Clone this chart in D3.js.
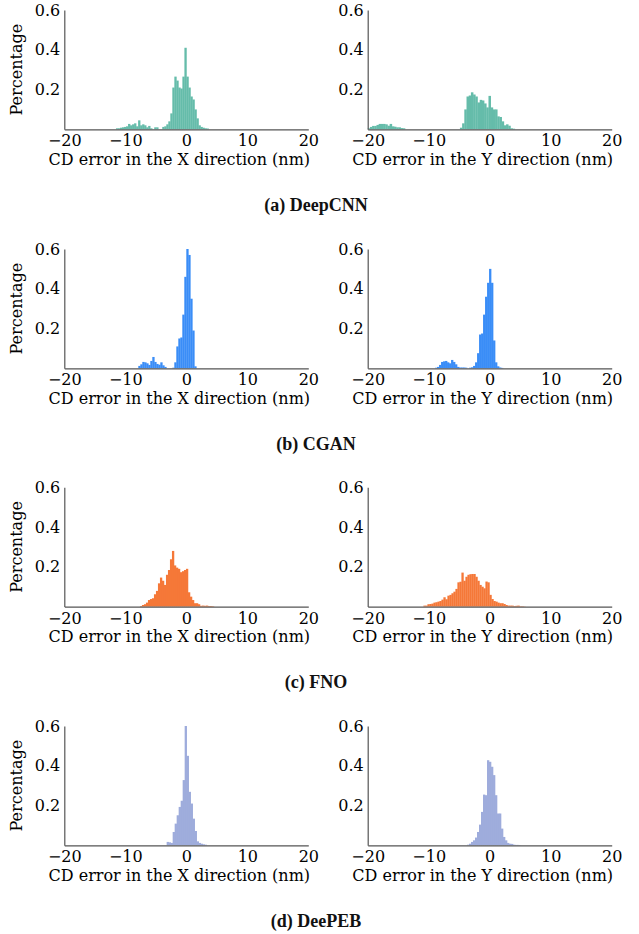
<!DOCTYPE html>
<html>
<head>
<meta charset="utf-8">
<script src="https://cdn.jsdelivr.net/npm/d3@7"></script>
<style>
  body { margin: 0; background: #fff; }
  .tick text { font-family: "DejaVu Serif", serif; font-size: 16px; fill: #000; }
  .axis-title { font-family: "DejaVu Serif", serif; font-size: 16px; fill: #000; }
  .caption { font-family: "Liberation Serif", serif; font-weight: bold; font-size: 18px; fill: #111; }
  .domain { stroke: #555; stroke-width: 1.2; }
</style>
</head>
<body>
<div id="chart"></div>
<script>
// histogram bins: start of first bin (nm), bin width (nm), then percentages
const models = [`(a) DeepCNN`, `(b) CGAN`, `(c) FNO`, `(d) DeePEB`];
const colors = [`#65bcaa`, `#3a8df7`, `#f57838`, `#9eacdc`];
const xTicks = [-20, -10, 0, 10, 20];
const yTicks = [0.2, 0.4, 0.6];

const deepcnnX = [0.005, 0.005, 0.008, 0.01, 0.012, 0.015, 0.027, 0.02, 0.025, 0.03, 0.015, 0.045, 0.02, 0.025, 0.02, 0.01,
  0.017, 0.005, 0, 0.01, 0.01, 0, 0, 0.012, 0.015, 0.025, 0.04, 0.08, 0.21, 0.265, 0.245, 0.21, 0.205, 0.265, 0.41, 0.265,
  0.21, 0.165, 0.15, 0.1, 0.055, 0.02, 0.012, 0.008, 0.005, 0.004];
const deepcnnY = [0.005, 0.012, 0.017, 0.017, 0.022, 0.027, 0.027, 0.027, 0.025, 0.018, 0.027, 0.015, 0.013, 0.01, 0.01, 0.006,
  0.005, 0, 0, 0, 0, 0, 0, 0, 0, 0, 0, 0, 0, 0, 0, 0, 0, 0, 0, 0, 0, 0, 0, 0, 0, 0, 0.008, 0.03, 0.1, 0.165, 0.17, 0.186,
  0.175, 0.165, 0.135, 0.148, 0.145, 0.13, 0.11, 0.168, 0.11, 0.1, 0.1, 0.065, 0.062, 0.04, 0.02, 0.025, 0.018, 0.005, 0.003];
const cganX = [0.012, 0.02, 0.032, 0.03, 0.025, 0.017, 0.037, 0.057, 0.032, 0.022, 0.018, 0.03, 0.015, 0.007, 0, 0, 0, 0.003,
  0.03, 0.11, 0.15, 0.155, 0.27, 0.46, 0.6, 0.57, 0.35, 0.19, 0.01];
const cganY = [0.003, 0.007, 0.017, 0.032, 0.035, 0.037, 0.03, 0.025, 0.042, 0.032, 0.02, 0.007, 0.004, 0.004, 0.004, 0.003,
  0, 0.003, 0.005, 0.012, 0.03, 0.076, 0.17, 0.175, 0.27, 0.36, 0.43, 0.5, 0.43, 0.14, 0.03, 0.01, 0.004, 0.002];
const fnoX = [0.003, 0.008, 0.012, 0.02, 0.033, 0.038, 0.042, 0.062, 0.079, 0.117, 0.146, 0.13, 0.109, 0.16, 0.184, 0.238,
  0.28, 0.207, 0.196, 0.19, 0.173, 0.178, 0.184, 0.19, 0.072, 0.05, 0.033, 0.017, 0.017, 0.012, 0.004, 0.005, 0.004, 0.005,
  0.003, 0.003, 0.002];
const fnoY = [0.005, 0.005, 0.012, 0.013, 0.015, 0.02, 0.022, 0.025, 0.028, 0.035, 0.047, 0.037, 0.055, 0.059, 0.067, 0.075,
  0.089, 0.122, 0.125, 0.171, 0.13, 0.15, 0.16, 0.163, 0.164, 0.164, 0.15, 0.13, 0.109, 0.1, 0.092, 0.126, 0.122, 0.059,
  0.038, 0.028, 0.025, 0.02, 0.017, 0.017, 0.013, 0.008, 0.005, 0.005, 0.005, 0.003, 0.004, 0.005, 0.002, 0.002, 0.001];
const deepebX = [0.017, 0.015, 0.012, 0.067, 0.109, 0.151, 0.193, 0.224, 0.328, 0.6, 0.45, 0.269, 0.21, 0.134, 0.072, 0.02,
  0.012, 0.008, 0.005, 0.003];
const deepebY = [0.003, 0.008, 0.017, 0.025, 0.039, 0.067, 0.104, 0.168, 0.255, 0.252, 0.428, 0.42, 0.395, 0.353, 0.252,
  0.16, 0.16, 0.084, 0.042, 0.025, 0.012, 0.008, 0.007, 0.003, 0.002, 0.002, 0.001];

const series = [[deepcnnX, deepcnnY], [cganX, cganY], [fnoX, fnoY], [deepebX, deepebY]];
const binStarts = [[-11.53, -20], [-7.87, -8.96], [-7.6, -10.87], [-3.22, -3.72]];
const binWidths = [[0.33, 0.36], [0.328, 0.328], [0.328, 0.328], [0.328, 0.328]];
const directions = [`X`, `Y`];

const width = 639;
const height = 934;
const plotW = 244;
const plotH = 119.3;
const colLeft = [64.3, 367.7];
const rowTop = [10, 249, 487.3, 726];

const svg = d3.select(`#chart`)
  .append(`svg`)
    .attr(`width`, width)
    .attr(`height`, height);

const x = d3.scaleLinear().domain([-20, 20]).range([0, plotW]);
const y = d3.scaleLinear().domain([0, 0.6]).range([plotH, 0]);

models.forEach((model, r) => {
  directions.forEach((dir, c) => {
    const g = svg.append(`g`)
      .attr(`transform`, `translate(${colLeft[c]}, ${rowTop[r]})`);
    const vals = series[r][c];
    const start = binStarts[r][c];
    const bw = binWidths[r][c];

    g.selectAll(`rect`)
      .data(vals)
      .enter().append(`rect`)
        .attr(`x`, (d, i) => x(start + i * bw))
        .attr(`width`, x(bw) - x(0) + 0.3)
        .attr(`y`, d => y(d))
        .attr(`height`, d => plotH - y(d))
        .attr(`fill`, colors[r]);

    // x axis, no tick marks
    g.append(`g`)
      .attr(`transform`, `translate(0, ${plotH})`)
      .call(d3.axisBottom(x).tickValues(xTicks).tickSize(0).tickPadding(5))
      .call(s => s.selectAll(`.tick text`).attr(`dy`, `0.75em`));

    // y axis, 0 not labelled
    g.append(`g`)
      .call(d3.axisLeft(y).tickValues(yTicks).tickFormat(d3.format(`.1f`)).tickSize(0).tickPadding(4));

    g.append(`text`)
      .attr(`class`, `axis-title`)
      .attr(`text-anchor`, `middle`)
      .attr(`x`, plotW / 2 - 7)
      .attr(`y`, plotH + 35.5)
      .text(`CD error in the ${dir} direction (nm)`);

    if (c === 0) {
      g.append(`text`)
        .attr(`class`, `axis-title`)
        .attr(`text-anchor`, `middle`)
        .attr(`transform`, `translate(-42, ${plotH / 2}) rotate(-90)`)
        .text(`Percentage`);
    }
  });

  svg.append(`text`)
    .attr(`class`, `caption`)
    .attr(`text-anchor`, `middle`)
    .attr(`x`, 316)
    .attr(`y`, rowTop[r] + plotH + 81.4)
    .text(model);
});
</script>
</body>
</html>
